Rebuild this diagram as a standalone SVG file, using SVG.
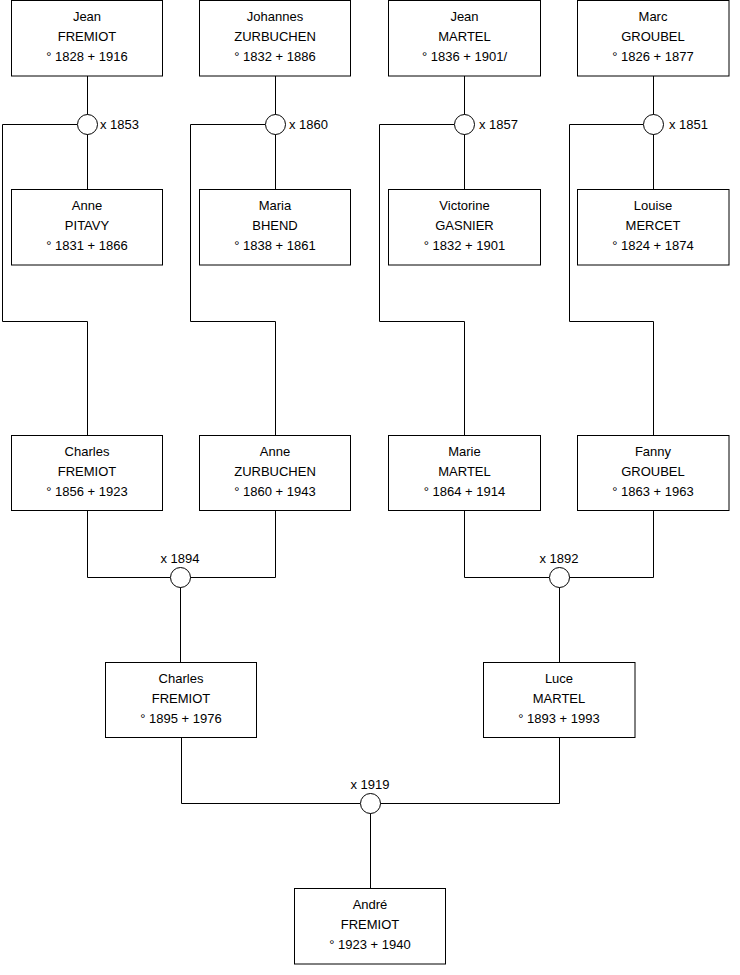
<svg xmlns="http://www.w3.org/2000/svg" width="740" height="975" viewBox="0 0 740 975">
<style>
.box{fill:#fff;stroke:#000;stroke-width:1}
.t{font-family:"Liberation Sans",Arial,sans-serif;font-size:13px;fill:#000;text-anchor:middle;dominant-baseline:central}
.m{font-family:"Liberation Sans",Arial,sans-serif;font-size:13px;fill:#000}
.c{fill:#fff;stroke:#000;stroke-width:1}
.ln{fill:none;stroke:#000;stroke-width:1}
</style>
<rect width="740" height="975" fill="#fff"/>
<g id="connectors">
<path class="ln" d="M87.5 76V124M87.5 124V189M77 124.5H2.5V321.5H87.5V435"/>
<path class="ln" d="M275.5 76V124M275.5 124V189M265 124.5H190.5V321.5H275.5V435"/>
<path class="ln" d="M464.5 76V124M464.5 124V189M454 124.5H379.5V321.5H464.5V435"/>
<path class="ln" d="M653.5 76V124M653.5 124V189M643 124.5H569.5V321.5H653.5V435"/>
<path class="ln" d="M87.5 510V577.5H170M275.5 510V577.5H190M180.5 587V662"/>
<path class="ln" d="M464.5 510V577.5H549M653.5 510V577.5H569M559.5 587V662"/>
<path class="ln" d="M181.5 737V803.5H360M559.5 737V803.5H380M370.5 813V888"/>
</g>
<g id="m1853"><circle class="c" cx="87.5" cy="124.5" r="10"/><text class="m" x="100" y="128.5">x 1853</text></g>
<g id="m1860"><circle class="c" cx="275.5" cy="124.5" r="10"/><text class="m" x="289" y="128.5">x 1860</text></g>
<g id="m1857"><circle class="c" cx="464.5" cy="124.5" r="10"/><text class="m" x="479" y="128.5">x 1857</text></g>
<g id="m1851"><circle class="c" cx="653.5" cy="124.5" r="10"/><text class="m" x="669" y="128.5">x 1851</text></g>
<g id="m1894"><circle class="c" cx="180.5" cy="577.5" r="10"/><text class="m" x="180" y="563" text-anchor="middle">x 1894</text></g>
<g id="m1892"><circle class="c" cx="559.5" cy="577.5" r="10"/><text class="m" x="559" y="563" text-anchor="middle">x 1892</text></g>
<g id="m1919"><circle class="c" cx="370.5" cy="803.5" r="10"/><text class="m" x="370" y="789" text-anchor="middle">x 1919</text></g>
<g id="jean-fremiot"><rect class="box" x="11.5" y="0.5" width="151" height="75.5"/><text class="t" x="87" y="16">Jean</text><text class="t" x="87" y="36">FREMIOT</text><text class="t" x="87" y="56">° 1828 + 1916</text></g>
<g id="johannes-zurbuchen"><rect class="box" x="199.5" y="0.5" width="151" height="75.5"/><text class="t" x="275" y="16">Johannes</text><text class="t" x="275" y="36">ZURBUCHEN</text><text class="t" x="275" y="56">° 1832 + 1886</text></g>
<g id="jean-martel"><rect class="box" x="388.5" y="0.5" width="152" height="75.5"/><text class="t" x="464.5" y="16">Jean</text><text class="t" x="464.5" y="36">MARTEL</text><text class="t" x="464.5" y="56">° 1836 + 1901/</text></g>
<g id="marc-groubel"><rect class="box" x="577.5" y="0.5" width="151.5" height="75.5"/><text class="t" x="653" y="16">Marc</text><text class="t" x="653" y="36">GROUBEL</text><text class="t" x="653" y="56">° 1826 + 1877</text></g>
<g id="anne-pitavy"><rect class="box" x="11.5" y="189.5" width="151" height="75.5"/><text class="t" x="87" y="205">Anne</text><text class="t" x="87" y="225">PITAVY</text><text class="t" x="87" y="245">° 1831 + 1866</text></g>
<g id="maria-bhend"><rect class="box" x="199.5" y="189.5" width="151" height="75.5"/><text class="t" x="275" y="205">Maria</text><text class="t" x="275" y="225">BHEND</text><text class="t" x="275" y="245">° 1838 + 1861</text></g>
<g id="victorine-gasnier"><rect class="box" x="388.5" y="189.5" width="152" height="75.5"/><text class="t" x="464.5" y="205">Victorine</text><text class="t" x="464.5" y="225">GASNIER</text><text class="t" x="464.5" y="245">° 1832 + 1901</text></g>
<g id="louise-mercet"><rect class="box" x="577.5" y="189.5" width="151.5" height="75.5"/><text class="t" x="653" y="205">Louise</text><text class="t" x="653" y="225">MERCET</text><text class="t" x="653" y="245">° 1824 + 1874</text></g>
<g id="charles-fremiot-1856"><rect class="box" x="11.5" y="435.5" width="151" height="75"/><text class="t" x="87" y="451">Charles</text><text class="t" x="87" y="471">FREMIOT</text><text class="t" x="87" y="491">° 1856 + 1923</text></g>
<g id="anne-zurbuchen"><rect class="box" x="199.5" y="435.5" width="151" height="75"/><text class="t" x="275" y="451">Anne</text><text class="t" x="275" y="471">ZURBUCHEN</text><text class="t" x="275" y="491">° 1860 + 1943</text></g>
<g id="marie-martel"><rect class="box" x="388.5" y="435.5" width="152" height="75"/><text class="t" x="464.5" y="451">Marie</text><text class="t" x="464.5" y="471">MARTEL</text><text class="t" x="464.5" y="491">° 1864 + 1914</text></g>
<g id="fanny-groubel"><rect class="box" x="577.5" y="435.5" width="151.5" height="75"/><text class="t" x="653" y="451">Fanny</text><text class="t" x="653" y="471">GROUBEL</text><text class="t" x="653" y="491">° 1863 + 1963</text></g>
<g id="charles-fremiot-1895"><rect class="box" x="105.5" y="662.5" width="151" height="75"/><text class="t" x="181" y="678">Charles</text><text class="t" x="181" y="698">FREMIOT</text><text class="t" x="181" y="718">° 1895 + 1976</text></g>
<g id="luce-martel"><rect class="box" x="483.5" y="662.5" width="151.5" height="75"/><text class="t" x="559" y="678">Luce</text><text class="t" x="559" y="698">MARTEL</text><text class="t" x="559" y="718">° 1893 + 1993</text></g>
<g id="andre-fremiot"><rect class="box" x="294.5" y="888.5" width="151" height="75.5"/><text class="t" x="370" y="904">André</text><text class="t" x="370" y="924">FREMIOT</text><text class="t" x="370" y="944">° 1923 + 1940</text></g>
</svg>
